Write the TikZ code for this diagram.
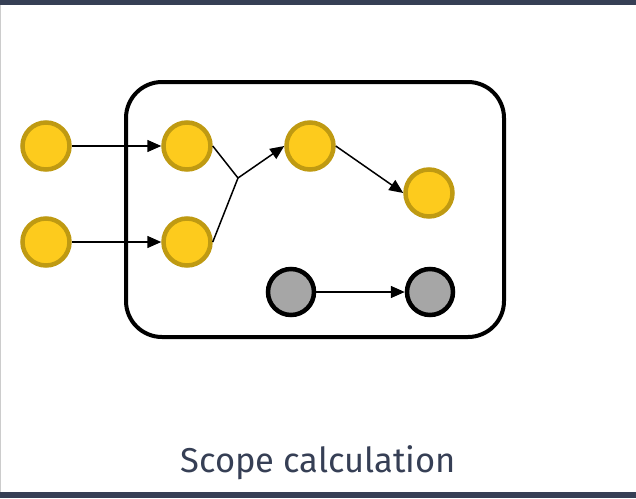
\documentclass[tikz,border=0pt]{standalone}
\usepackage{fontspec}
\setmainfont{Fira Sans}
\usetikzlibrary{arrows.meta}
\definecolor{slate}{HTML}{363F55}
\definecolor{gold}{HTML}{FDCB1D}
\definecolor{golddark}{HTML}{BF9A12}
\definecolor{greyfill}{HTML}{A6A6A6}
\tikzset{
  live/.style={circle, draw=golddark, fill=gold, line width=4.5pt, minimum size=47pt, inner sep=0pt},
  dead/.style={circle, draw=black, fill=greyfill, line width=4.5pt, minimum size=46pt, inner sep=0pt},
  flow/.style={line width=1.5pt, -{Triangle[length=14pt,width=12pt]}}
}
\begin{document}
\begin{tikzpicture}[x=1pt,y=-1pt]
  \useasboundingbox (0,0) rectangle (636,498);
  \fill[slate] (0,0) rectangle (636,5);
  \fill[slate] (0,492) rectangle (636,498);
  \draw[black!20, line width=1pt] (0.5,5) -- (0.5,492);
  \draw[line width=4pt, rounded corners=36pt] (126,82) rectangle (504,337);
  \draw
    (46,146) node[live] (0){}
    (46,242) node[live] (1){}
    (187,146) node[live] (2){}
    (187,242) node[live] (3){}
    (310,146) node[live] (4){}
    (429,193) node[live] (5){}
    (291,292) node[dead] (6){}
    (430,292) node[dead] (7){};
  \coordinate (j) at (238,178);
  \begin{scope}[flow]
    \draw (0) to (2);
    \draw (1) to (3);
    \draw[-] (2.east) to (j);
    \draw[-] (3.east) to (j);
    \draw (j) to (4.west);
    \draw (4.east) to (5.west);
    \draw (6) to (7);
  \end{scope}
  \node[text=slate, font=\fontsize{34.5}{40}\selectfont] (title) at (318,463) {Scope calculation};
\end{tikzpicture}
\end{document}
